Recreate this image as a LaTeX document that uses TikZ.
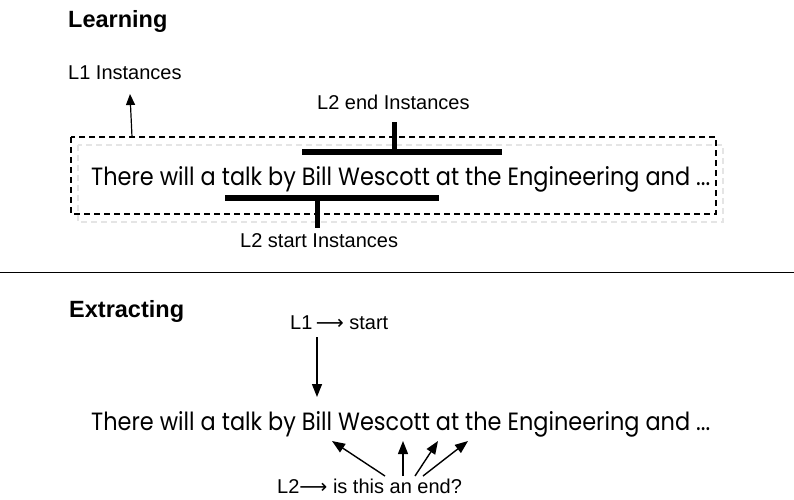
\documentclass[tikz,border=0pt]{standalone}
\usepackage{fontspec}
\setmainfont{Liberation Sans}
\newfontfamily\geofont{Poppins}
\newfontfamily\symfont{DejaVu Sans}
\usepackage{graphicx}
\usetikzlibrary{arrows.meta, positioning}

\tikzset{
  lbl/.style={anchor=base west, inner sep=0pt, font=\fontsize{20}{24}\selectfont},
  hdr/.style={anchor=base west, inner sep=0pt, font=\fontsize{23.5}{28}\selectfont\bfseries},
  sent/.style={anchor=base west, inner sep=0pt},
  bar/.style={line width=6pt},
  arr/.style={-{Triangle[length=13pt,width=10pt]}, line width=1.4pt},
}
\newcommand{\talksentence}{\resizebox{619pt}{19pt}{\geofont There will a talk by Bill Wescott at the Engineering and ...}}
\newcommand{\longarr}{{\symfont\resizebox{28pt}{!}{⟶}}}

\begin{document}
\begin{tikzpicture}[x=1pt, y=-1pt]
  \useasboundingbox (0,0) rectangle (794,499);
  % Learning part
  \node[hdr] (learn) at (68,27) {Learning};
  \node[lbl] (l1inst) at (68,79) {L1 Instances};
  \node[lbl] (l2end) at (317,109) {L2 end Instances};
  % dashed box round the sentence, with its light shadow
  \draw[gray!20, line width=1.5pt, dash pattern=on 6pt off 4pt] (78,145) rectangle (723,222);
  \draw[line width=1.2pt, dash pattern=on 6pt off 4pt] (71,137) rectangle (716,214);
  \node[sent] (sentA) at (91,185) {\talksentence};
  % L1 arrow from box
  \coordinate (l1foot) at (132,137);
  \coordinate (l1tip) at (130,94);
  \draw[arr, -{Triangle[length=11pt,width=9pt]}, line width=1.2pt] (l1foot) -- (l1tip);
  % L2 end bar
  \draw[bar] (302,152) -- (502,152);
  \draw[line width=5pt] (394,122) -- (394,152);
  % L2 start bar
  \draw[bar] (225,198) -- (439,198);
  \draw[line width=5pt] (317,198) -- (317,228);
  \node[lbl] (l2start) at (240,247) {L2 start Instances};
  % separator
  \draw[line width=1pt] (0,272) -- (794,272);
  % Extracting part
  \node[hdr] (extr) at (69,317) {Extracting};
  \node[lbl] (l1start) at (290,329) {L1\,\longarr\ start};
  \node[sent] (sentB) at (91,430) {\talksentence};
  \node[lbl] (l2ask) at (277,493) {L2\longarr\ is this an end?};
  \coordinate (startfoot) at (317,337);
  \coordinate (starttip) at (317,397);
  \draw[arr] (startfoot) -- (starttip);
  % L2 arrows up to the sentence
  \foreach \bx/\tx [count=\i] in {385/332, 403/403, 415/438, 423/468} {
    \coordinate (askfoot\i) at (\bx,476);
    \coordinate (asktip\i) at (\tx,441);
    \draw[arr] (askfoot\i) -- (asktip\i);
  }
\end{tikzpicture}
\end{document}
